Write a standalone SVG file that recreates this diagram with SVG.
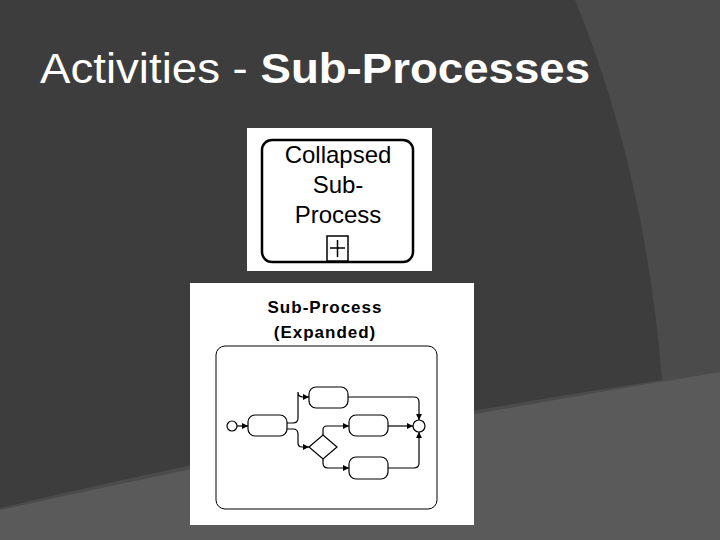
<svg xmlns="http://www.w3.org/2000/svg" width="720" height="540" viewBox="0 0 720 540">
<defs>
<style>
.ln{fill:none;stroke:#000;stroke-width:1.2}
.tk{fill:#fff;stroke:#000;stroke-width:1.2}
.t{font-family:"Liberation Sans",Arial,sans-serif}
</style>
<marker id="ah" viewBox="0 0 10 10" refX="10" refY="5" markerWidth="6" markerHeight="6" orient="auto" markerUnits="userSpaceOnUse"><path d="M0,0 L10,5 L0,10 Z" fill="#000"/></marker>
</defs>
<rect width="720" height="540" fill="#4b4b4b"/>
<path d="M0,0 L575,0 Q645,170 662,380 Q330,430 0,508 Z" fill="#3d3d3d"/>
<path d="M0,510 Q350,432 720,372 L720,540 L0,540 Z" fill="#5a5a5a"/>
<text class="t" x="40" y="83" font-size="43" fill="#fff" textLength="550" lengthAdjust="spacingAndGlyphs">Activities - <tspan font-weight="bold">Sub-Processes</tspan></text>
<g id="collapsed">
<rect x="247" y="128" width="185" height="143" fill="#fff"/>
<rect x="262" y="140" width="151" height="122" rx="10" fill="#fff" stroke="#000" stroke-width="2.5"/>
<g class="t" font-size="24" text-anchor="middle" fill="#000">
<text x="338" y="163">Collapsed</text>
<text x="338" y="193">Sub-</text>
<text x="338" y="223">Process</text>
</g>
<rect x="327" y="236" width="21" height="25" fill="#fff" stroke="#000" stroke-width="1.5"/>
<path d="M330,248 H345 M337.5,240 V257" stroke="#000" stroke-width="1.5"/>
</g>
<g id="expanded">
<rect x="190" y="283" width="284" height="242" fill="#fff"/>
<text class="t" x="325" y="313" font-size="17" font-weight="bold" text-anchor="middle" letter-spacing="1">Sub-Process</text>
<text class="t" x="325" y="338" font-size="17" font-weight="bold" text-anchor="middle" letter-spacing="1">(Expanded)</text>
<rect x="216" y="346" width="221" height="163" rx="9" fill="#fff" stroke="#000" stroke-width="1"/>
</g>
<g id="connectors">
<path class="ln" d="M237,426 H248" marker-end="url(#ah)"/>
<path class="ln" d="M287,423 H293 Q298,423 298,418 V392 Q298,397 303,397 H309" marker-end="url(#ah)"/>
<path class="ln" d="M287,429 H293 Q298,429 298,434 V443 Q298,447 302,447 H309" marker-end="url(#ah)"/>
<path class="ln" d="M323,435 V430 Q323,426 327,426 H349" marker-end="url(#ah)"/>
<path class="ln" d="M323,459 V463 Q323,468 328,468 H349" marker-end="url(#ah)"/>
<path class="ln" d="M348,397 H414 Q419,397 419,402 V420" marker-end="url(#ah)"/>
<path class="ln" d="M388,426 H413" stroke-width="2" marker-end="url(#ah)"/>
<path class="ln" d="M388,468 H414 Q419,468 419,463 V432" stroke-width="1.6" marker-end="url(#ah)"/>
</g>
<g id="start"><circle cx="232" cy="426" r="5" class="tk" stroke-width="0.8"/></g>
<g id="task1"><rect x="248" y="415" width="39" height="21" rx="7" class="tk"/></g>
<g id="taskTop"><rect x="309" y="387" width="39" height="21" rx="7" class="tk"/></g>
<g id="taskMid"><rect x="349" y="415" width="39" height="21" rx="7" class="tk"/></g>
<g id="taskBot"><rect x="349" y="457" width="39" height="22" rx="7" class="tk"/></g>
<g id="gateway"><path d="M323,435 L337,447 L323,459 L309,447 Z" class="tk" stroke-width="1"/></g>
<g id="end"><circle cx="419" cy="426" r="6" class="tk" stroke-width="1.6"/></g>
</svg>
